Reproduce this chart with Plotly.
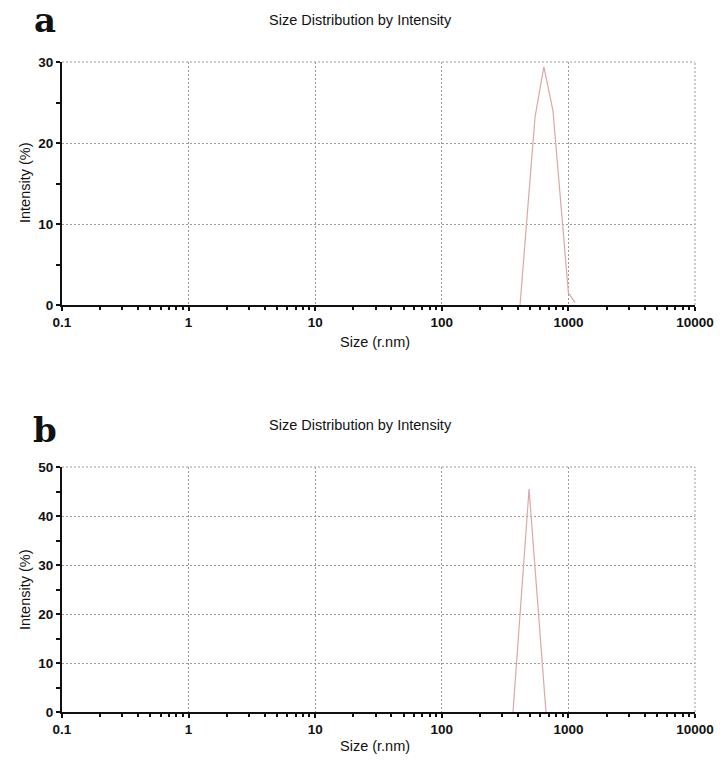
import plotly.graph_objects as go

# Panel a: hydrodynamic size distribution (radius, nm) vs. intensity (%)
size_a = [415, 545, 640, 755, 1000, 1130]
intensity_a = [0.0, 23.2, 29.4, 24.0, 1.5, 0.3]

# Panel b
size_b = [365, 489, 665]
intensity_b = [0.0, 45.5, 0.0]

x_tickvals = [0.1, 1, 10, 100, 1000, 10000]
x_ticktext = ["0.1", "1", "10", "100", "1000", "10000"]
y_ticks_a = [0, 10, 20, 30]
y_ticks_b = [0, 10, 20, 30, 40, 50]

panel_title = "Size Distribution by Intensity"
x_title = "Size (r.nm)"
y_title = "Intensity (%)"

W, H = 720, 766

LINE_COLOR = "#d9a9a9"
GRID_COLOR = "#9a9a9a"
GRID_DASH = "2px,2px"
TICK_FONT = dict(family="Liberation Sans, Arial, sans-serif", size=13.5,
                 color="#111", weight="bold")
LABEL_FONT = dict(family="Liberation Sans, Arial, sans-serif", size=14.5, color="#111")


def px_x(p):
    """Pixel column -> paper fraction."""
    return p / W


def px_y(p):
    """Pixel row -> paper fraction."""
    return 1 - p / H


fig = go.Figure()
fig.add_trace(go.Scatter(x=size_a, y=intensity_a, mode="lines",
                         line=dict(color=LINE_COLOR, width=1.2),
                         xaxis="x", yaxis="y", showlegend=False))
fig.add_trace(go.Scatter(x=size_b, y=intensity_b, mode="lines",
                         line=dict(color=LINE_COLOR, width=1.2),
                         xaxis="x2", yaxis="y2", showlegend=False))

x_domain = [px_x(62), px_x(695)]


def xaxis_cfg(anchor):
    return dict(
        type="log", range=[-1, 4], domain=x_domain, anchor=anchor,
        tickvals=x_tickvals, ticktext=x_ticktext, ticklabeloverflow="allow",
        showline=True, linecolor="#111", linewidth=2,
        ticks="outside", ticklen=4, tickwidth=2, tickcolor="#111",
        showgrid=True, gridcolor=GRID_COLOR, griddash=GRID_DASH, gridwidth=1,
        minor=dict(ticks="outside", ticklen=3, tickwidth=2, tickcolor="#111",
                   dtick="D1", showgrid=False),
        tickfont=TICK_FONT, zeroline=False, fixedrange=True,
    )


def yaxis_cfg(anchor, dom, top, ticks):
    return dict(
        range=[0, top], domain=dom, anchor=anchor,
        tickvals=ticks, ticktext=[str(t) for t in ticks],
        showline=True, linecolor="#111", linewidth=2,
        ticks="outside", ticklen=4, tickwidth=2, tickcolor="#111",
        showgrid=True, gridcolor=GRID_COLOR, griddash=GRID_DASH, gridwidth=1,
        minor=dict(ticks="outside", ticklen=4, tickwidth=2, tickcolor="#111",
                   dtick=5, showgrid=False),
        tickfont=TICK_FONT, zeroline=False, fixedrange=True,
    )


fig.update_layout(
    width=W, height=H,
    margin=dict(l=0, r=0, t=0, b=0, autoexpand=False),
    paper_bgcolor="white", plot_bgcolor="white",
    xaxis=xaxis_cfg("y"),
    yaxis=yaxis_cfg("x", [px_y(305), px_y(62)], 30, y_ticks_a),
    xaxis2=xaxis_cfg("y2"),
    yaxis2=yaxis_cfg("x2", [px_y(712), px_y(467)], 50, y_ticks_b),
)

# Dotted frame along the top and right edges of each panel
shapes = []
for xr, yr in [("x", "y"), ("x2", "y2")]:
    frame = dict(type="line", xref=f"{xr} domain", yref=f"{yr} domain",
                 line=dict(color=GRID_COLOR, width=1, dash=GRID_DASH), layer="below")
    shapes.append(dict(frame, x0=0, x1=1, y0=1, y1=1))
    shapes.append(dict(frame, x0=1, x1=1, y0=0, y1=1))
fig.update_layout(shapes=shapes)

annotations = []
for label, y_lab, y_title_px, y_xt, y_mid in [("a", 20, 20, 342, 183),
                                               ("b", 430, 425, 746, 590)]:
    annotations.append(dict(text=label, x=px_x(45), y=px_y(y_lab), xref="paper", yref="paper",
                            showarrow=False, xanchor="center", yanchor="middle",
                            font=dict(family="DejaVu Serif, Liberation Serif, serif",
                                      size=34, color="#111", weight="bold")))
    annotations.append(dict(text=panel_title, x=px_x(360), y=px_y(y_title_px),
                            xref="paper", yref="paper", showarrow=False,
                            xanchor="center", yanchor="middle", font=LABEL_FONT))
    annotations.append(dict(text=x_title, x=px_x(375), y=px_y(y_xt),
                            xref="paper", yref="paper", showarrow=False,
                            xanchor="center", yanchor="middle", font=LABEL_FONT))
    annotations.append(dict(text=y_title, x=px_x(25), y=px_y(y_mid),
                            xref="paper", yref="paper", showarrow=False, textangle=-90,
                            xanchor="center", yanchor="middle", font=LABEL_FONT))
fig.update_layout(annotations=annotations)

fig.write_html("out.html")
